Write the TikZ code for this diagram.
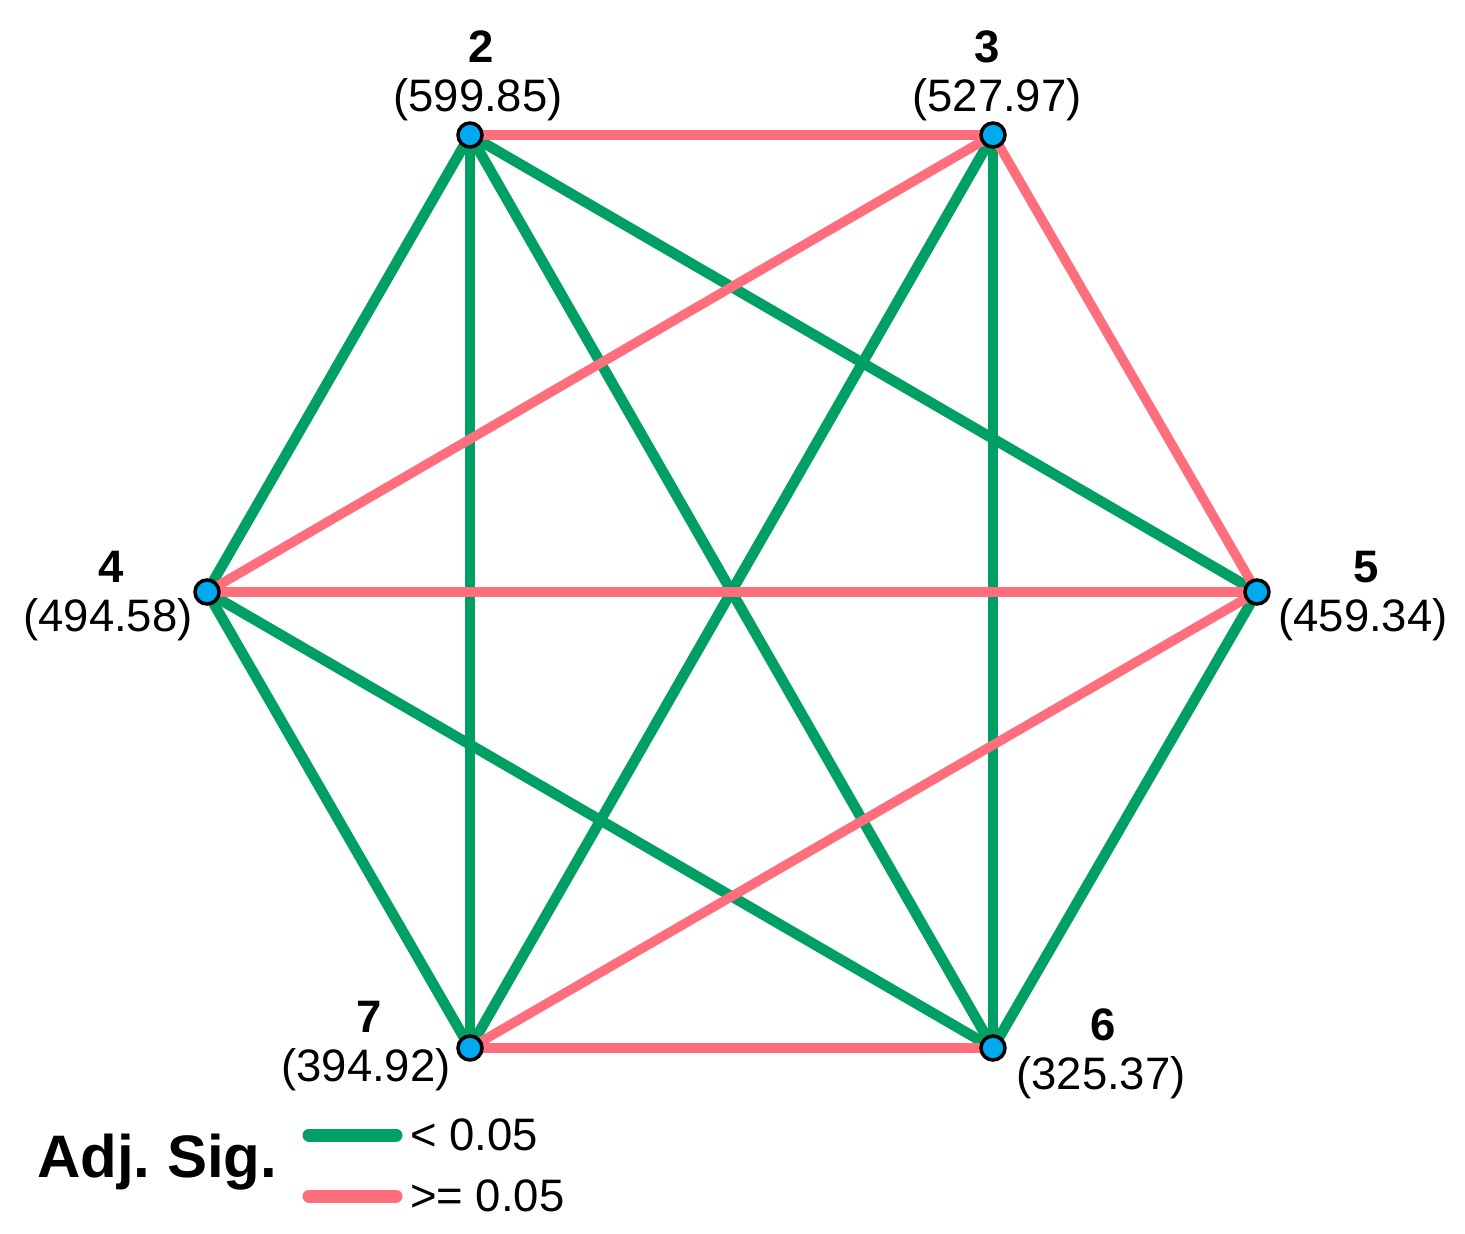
\documentclass[tikz,border=0pt]{standalone}
\usepackage{fontspec}
\setmainfont{Liberation Sans}
\usetikzlibrary{backgrounds}
\definecolor{sigG}{RGB}{0,160,100}
\definecolor{sigP}{RGB}{255,110,125}
\definecolor{dotB}{RGB}{0,170,240}
\frenchspacing
\begin{document}
\begin{tikzpicture}[x=1pt,y=-1pt,
  dot/.style={circle,draw=black,line width=3.5pt,fill=dotB,minimum size=24pt,inner sep=0pt},
  ge/.style={draw=sigG,line width=10.5pt},
  pe/.style={draw=sigP,line width=9.5pt},
  num/.style={font=\fontsize{45.5}{50}\selectfont\bfseries,inner sep=0pt,anchor=center},
  val/.style={font=\fontsize{45.5}{50}\selectfont,inner sep=0pt,anchor=center},
  leg/.style={line width=13pt,line cap=round}]
\useasboundingbox (0,0) rectangle (1465,1234);
\node[dot] (n2) at (470,135) {};
\node[dot] (n3) at (993,135) {};
\node[dot] (n4) at (207,592) {};
\node[dot] (n5) at (1257,592) {};
\node[dot] (n6) at (993,1048) {};
\node[dot] (n7) at (470,1048) {};
\begin{scope}[on background layer]
\fill[white] (0,0) rectangle (1465,1234);
\draw[ge] (n2.center) -- (n4.center);
\draw[ge] (n2.center) -- (n7.center);
\draw[ge] (n2.center) -- (n6.center);
\draw[ge] (n2.center) -- (n5.center);
\draw[ge] (n3.center) -- (n7.center);
\draw[ge] (n3.center) -- (n6.center);
\draw[ge] (n4.center) -- (n6.center);
\draw[ge] (n4.center) -- (n7.center);
\draw[ge] (n5.center) -- (n6.center);
\draw[pe] (n2.center) -- (n3.center);
\draw[pe] (n3.center) -- (n4.center);
\draw[pe] (n3.center) -- (n5.center);
\draw[pe] (n4.center) -- (n5.center);
\draw[pe] (n5.center) -- (n7.center);
\draw[pe] (n6.center) -- (n7.center);
\end{scope}
\node[num] (l2) at (481,47) {2};
\node[val] (v2) at (478,100) {(599.85)};
\node[num] (l3) at (987,47) {3};
\node[val] (v3) at (997,100) {(527.97)};
\node[num] (l4) at (111,567) {4};
\node[val] (v4) at (108,620) {(494.58)};
\node[num] (l5) at (1366,567) {5};
\node[val] (v5) at (1363,620) {(459.34)};
\node[num] (l6) at (1103,1025) {6};
\node[val] (v6) at (1101,1078) {(325.37)};
\node[num] (l7) at (369,1017) {7};
\node[val] (v7) at (366,1070) {(394.92)};
\node[font=\fontsize{60}{66}\selectfont\bfseries,inner sep=0pt,anchor=west] (title) at (37,1162) {Adj. Sig.};
\coordinate (ga) at (309,1135); \coordinate (gb) at (396,1135);
\coordinate (pa) at (309,1196); \coordinate (pb) at (396,1196);
\draw[leg,sigG] (ga) -- (gb);
\draw[leg,sigP] (pa) -- (pb);
\node[val,anchor=west] (lg) at (410,1135) {< 0.05};
\node[val,anchor=west] (lp) at (410,1196) {>= 0.05};
\end{tikzpicture}
\end{document}
